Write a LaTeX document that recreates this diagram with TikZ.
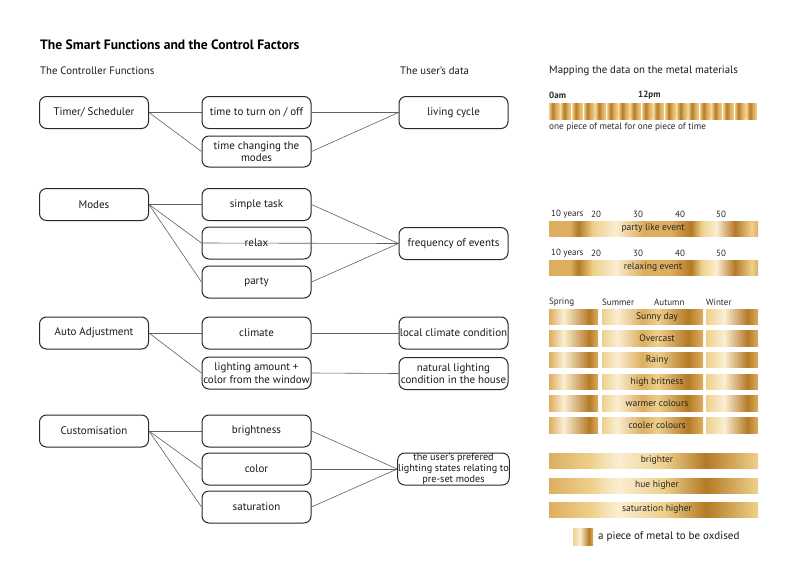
\documentclass[tikz,border=0pt]{standalone}
\usepackage{fontspec}
\setmainfont{PT Sans}
\definecolor{goldD}{RGB}{180,122,38}
\definecolor{goldM}{RGB}{221,174,96}
\definecolor{goldL}{RGB}{238,208,140}
\definecolor{goldP}{RGB}{250,238,210}
\definecolor{linegray}{RGB}{95,95,95}
\definecolor{boxline}{RGB}{40,40,40}
% metal shadings (middle 25bp--75bp is stretched over the path)
\pgfdeclarehorizontalshading{piece}{100bp}{color(0bp)=(goldL); color(25bp)=(goldL); color(42bp)=(goldD); color(58bp)=(goldM); color(75bp)=(goldL); color(100bp)=(goldL)}
\pgfdeclarehorizontalshading{decade}{100bp}{color(0bp)=(goldM); color(25bp)=(goldM); color(30bp)=(goldM); color(32bp)=(goldD); color(35.5bp)=(goldL); color(41bp)=(goldP); color(47.5bp)=(goldM); color(54bp)=(goldM); color(59bp)=(goldD); color(61.5bp)=(goldL); color(65bp)=(goldP); color(69.5bp)=(goldD); color(73.5bp)=(goldL); color(75bp)=(goldM); color(100bp)=(goldM)}
\pgfdeclarehorizontalshading{seasonA}{100bp}{color(0bp)=(goldM); color(25bp)=(goldM); color(40bp)=(goldP); color(66bp)=(goldD); color(75bp)=(goldM); color(100bp)=(goldM)}
\pgfdeclarehorizontalshading{seasonB}{100bp}{color(0bp)=(goldL); color(25bp)=(goldL); color(32.5bp)=(goldP); color(45bp)=(goldM); color(52.5bp)=(goldL); color(67.5bp)=(goldD); color(75bp)=(goldM); color(100bp)=(goldM)}
\pgfdeclarehorizontalshading{seasonC}{100bp}{color(0bp)=(goldL); color(25bp)=(goldL); color(42.5bp)=(goldP); color(65bp)=(goldD); color(75bp)=(goldM); color(100bp)=(goldM)}
\pgfdeclarehorizontalshading{bright}{100bp}{color(0bp)=(goldM); color(25bp)=(goldM); color(35bp)=(goldL); color(41.5bp)=(goldP); color(52.5bp)=(goldL); color(62.5bp)=(goldD); color(75bp)=(goldL); color(100bp)=(goldL)}
\tikzstyle{fbox}=[draw=boxline, line width=1pt, rounded corners=7pt, fill=white, minimum width=109pt, minimum height=32pt, inner sep=0.5pt, align=center, text=black!90, font=\fontsize{11}{12.5}\selectfont]
\tikzstyle{conn}=[draw=linegray, line width=0.6pt]
\tikzstyle{head}=[anchor=west, inner sep=0pt, text=black!90, font=\fontsize{10.8}{12}\selectfont]
\tikzstyle{tick}=[anchor=west, inner sep=0pt, text=black!85, font=\fontsize{9}{10}\selectfont]
\tikzstyle{barlab}=[inner sep=0pt, text=black!85, font=\fontsize{9.5}{10}\selectfont]

\begin{document}
\begin{tikzpicture}[x=1pt, y=-1pt]
    \useasboundingbox (0,0) rectangle (800,565);
    \node[anchor=west, inner sep=0pt, font=\fontsize{13.6}{15}\selectfont\bfseries] (title) at (40,45) {The Smart Functions and the Control Factors};
    \node[head] (hfunc) at (40,71) {The Controller Functions};
    \node[head] (hdata) at (400,71) {The user’s data};
    \node[head] (hmap) at (549,71) {Mapping the data on the metal materials};
    % controller functions
    \node[fbox] (timer) at (94,112.5) {Timer/ Scheduler};
    \node[fbox] (modes) at (94,204.5) {Modes};
    \node[fbox] (auto) at (94,333) {Auto Adjustment};
    \node[fbox] (custom) at (94,431) {Customisation};
    % sub functions
    \node[fbox] (turn) at (256.5,112.5) {time to turn on / off};
    \node[fbox, minimum height=31pt] (change) at (256.5,151.5) {time changing the\\modes};
    \node[fbox] (simple) at (256.5,204.5) {simple task};
    \node[fbox] (relax) at (256.5,243) {relax};
    \node[fbox] (party) at (256.5,282) {party};
    \node[fbox] (climate) at (256.5,333) {climate};
    \node[fbox] (lighting) at (256.5,373) {lighting amount +\\color from the window};
    \node[fbox] (bright) at (256.5,431) {brightness};
    \node[fbox] (colour) at (256.5,469) {color};
    \node[fbox] (sat) at (256.5,507) {saturation};
    % user's data
    \node[fbox] (cycle) at (453.5,112.5) {living cycle};
    \node[fbox] (freq) at (453.5,243.5) {frequency of events};
    \node[fbox] (local) at (453.5,333) {local climate condition};
    \node[fbox] (natural) at (453.5,373.5) {natural lighting\\condition in the house};
    \node[fbox, inner ysep=0pt, font=\fontsize{10.2}{11}\selectfont] (pref) at (453.5,469) {the user’s prefered\\lighting states relating to\\pre-set modes};
    % connectors
    \draw[conn] (timer.east) -- (turn.west);
    \draw[conn] (timer.east) -- (change.west);
    \draw[conn] (turn.east) -- (cycle.west);
    \draw[conn] (change.east) -- (cycle.west);
    \draw[conn] (modes.east) -- (simple.west);
    \draw[conn] (modes.east) -- (relax.west);
    \draw[conn] (modes.east) -- (party.west);
    \draw[conn] (simple.east) -- (freq.west);
    \draw[conn] (relax.west) -- (freq.west);
    \draw[conn] (party.east) -- (freq.west);
    \draw[conn] (auto.east) -- (climate.west);
    \draw[conn] (auto.east) -- (lighting.west);
    \draw[conn] (climate.east) -- (local.west);
    \draw[conn] (lighting.east) -- (natural.west);
    \draw[conn] (custom.east) -- (bright.west);
    \draw[conn] (custom.east) -- (colour.west);
    \draw[conn] (custom.east) -- (sat.west);
    \draw[conn] (bright.east) -- (pref.west);
    \draw[conn] (colour.east) -- (pref.west);
    \draw[conn] (sat.east) -- (pref.west);
    % metal: time of day
    \node[tick, font=\fontsize{9}{10}\selectfont\bfseries] (am) at (549,95) {0am};
    \node[tick, font=\fontsize{9}{10}\selectfont\bfseries] (pm) at (638,95) {12pm};
    \foreach \i in {0,...,17}
        \shade[shading=piece] ({549+\i*11.61},103) rectangle +(10.6,16);
    \node[tick, font=\fontsize{9.2}{10}\selectfont] (onepiece) at (549,127) {one piece of metal for one piece of time};
    % metal: decades
    \foreach \y/\lab [count=\k] in {214/party like event, 253/relaxing event} {
        \node[tick] (ten\k) at (551,\y) {10 years};
        \node[tick] (twenty\k) at (591,\y) {20};
        \node[tick] (thirty\k) at (633,\y) {30};
        \node[tick] (forty\k) at (675,\y) {40};
        \node[tick] (fifty\k) at (716,\y) {50};
        \shade[shading=decade] (549,\y+7) rectangle (758,\y+22);
        \node[barlab] (ev\k) at (653,\y+14.5) {\lab};
    }
    % metal: seasons
    \node[tick] (spring) at (549,302) {Spring};
    \node[tick] (summer) at (602,302) {Summer};
    \node[tick] (autumn) at (654,302) {Autumn};
    \node[tick] (winter) at (706,302) {Winter};
    \foreach \lab [count=\k from 0] in {Sunny day, Overcast, Rainy, high britness, warmer colours, cooler colours} {
        \pgfmathsetmacro\yy{309+\k*21.7}
        \shade[shading=seasonA] (549,\yy) rectangle (598,\yy+15.5);
        \shade[shading=seasonB] (602,\yy) rectangle (703,\yy+15.5);
        \shade[shading=seasonC] (706,\yy) rectangle (758,\yy+15.5);
        \node[barlab] (sea\k) at (657,\yy+7.75) {\lab};
    }
    % metal: customisation
    \foreach \y/\lab [count=\k] in {453/brighter, 478/hue higher, 502/saturation higher} {
        \shade[shading=bright] (549,\y) rectangle (758,\y+15);
        \node[barlab] (cu\k) at (657,\y+7.5) {\lab};
    }
    \shade[shading=seasonC] (573,528) rectangle (593,545);
    \node[head, font=\fontsize{11}{12}\selectfont] (legend) at (598,537) {a piece of metal to be oxdised};
\end{tikzpicture}
\end{document}
